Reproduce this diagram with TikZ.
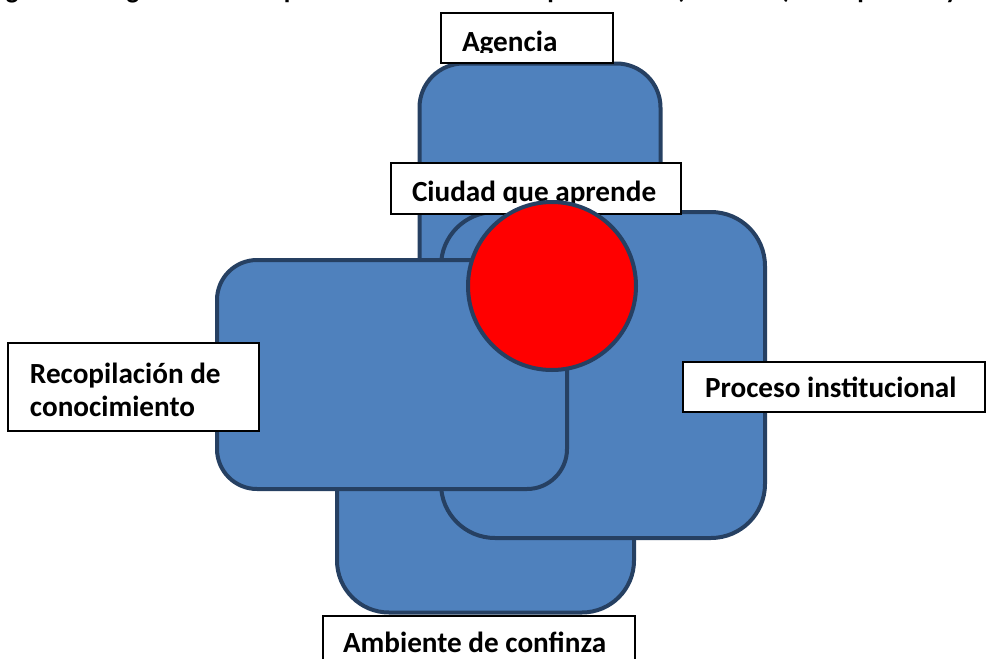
\documentclass[tikz,border=0pt]{standalone}
\usepackage{fontspec}
\setmainfont{Carlito}
\definecolor{boxfill}{HTML}{4F81BD}
\definecolor{boxline}{RGB}{38,64,98}
\definecolor{cred}{RGB}{255,0,0}
\begin{document}
\begin{tikzpicture}[x=1pt,y=-1pt,
  blob/.style={fill=boxfill,draw=boxline,line width=4pt,inner sep=0pt,outer sep=0pt},
  lbl/.style={draw=black,fill=white,line width=1.4pt,inner sep=0pt,outer sep=0pt},
  txt/.style={font=\fontsize{29.2}{35}\selectfont\bfseries,anchor=base west,inner sep=0pt,outer sep=0pt},
  ttl/.style={font=\fontsize{26.8}{32}\selectfont\bfseries,anchor=base west,inner sep=0pt,outer sep=0pt}]
\useasboundingbox (0,0) rectangle (986,659);
\clip (0,0) rectangle (986,659);
% clipped caption
\node[ttl] (title) at (-13,-1.5) {Figura 1. Diagrama de componentes de la ciudad aprendiente (Medellín) de la política y};
% rounded boxes
\node[blob,rounded corners=44pt,minimum width=241pt,minimum height=376pt] (top) at (540,251.5) {};
\node[blob,rounded corners=52pt,minimum width=297pt,minimum height=312pt] (bottom) at (485.5,456.5) {};
\node[blob,rounded corners=54pt,minimum width=324pt,minimum height=326pt] (right) at (603,375) {};
\node[blob,rounded corners=40pt,minimum width=350pt,minimum height=229pt] (left) at (392,374.5) {};
% label boxes
\node[lbl,minimum width=172pt,minimum height=50pt] (lagencia) at (527,38) {};
\node[lbl,minimum width=290pt,minimum height=51pt] (lciudad) at (536,188.5) {};
\node[lbl,minimum width=251pt,minimum height=88pt] (lrecop) at (133.5,387) {};
\node[lbl,minimum width=302pt,minimum height=50pt] (lproceso) at (834,387) {};
\node[lbl,minimum width=312pt,minimum height=52pt] (lambiente) at (479,642) {};
% label texts
\begin{scope}
\clip (441,13) rectangle (613,52);
\node[txt] (tagencia) at (462,51) {Agencia};
\end{scope}
\begin{scope}
\clip (391,163) rectangle (681,202);
\node[txt] (tciudad) at (412,201) {Ciudad que aprende};
\end{scope}
\node[txt] (trecop1) at (30,383) {Recopilación de};
\node[txt] (trecop2) at (30,416) {conocimiento};
\node[txt] (tproceso) at (705,397) {Proceso institucional};
\node[txt] (tambiente) at (343,652) {Ambiente de confinza};
% central circle
\node[circle,fill=cred,draw=boxline,line width=4pt,minimum size=168pt,inner sep=0pt] (core) at (552,286) {};
\end{tikzpicture}
\end{document}
